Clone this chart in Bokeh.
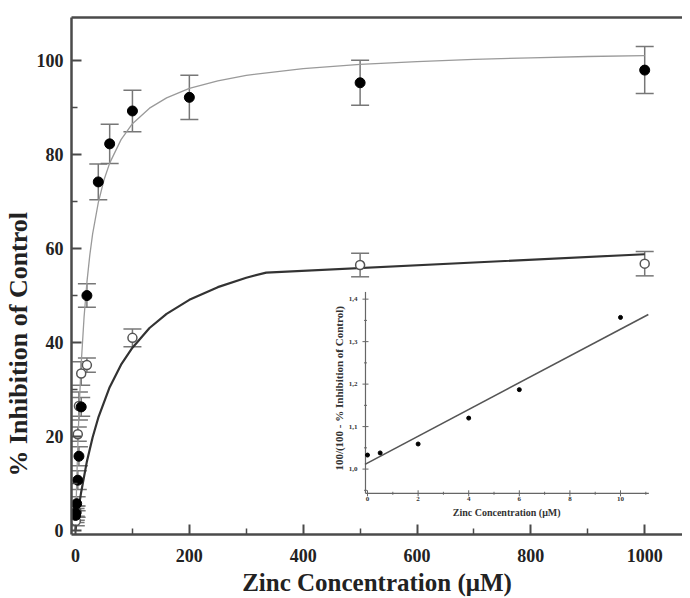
from bokeh.plotting import figure
from bokeh.models import (Range1d, LinearAxis, FixedTicker, Whisker, TeeHead,
                          ColumnDataSource)
from bokeh.embed import file_html
from bokeh.resources import INLINE
from bokeh.core.properties import value

# ---------------- main data ----------------
filled_x = [0.1, 0.5, 2, 4, 6, 10, 20, 40, 60, 100, 200, 500, 1000]
filled_y = [3.2, 3.7, 5.7, 10.7, 15.8, 26.3, 50.0, 74.2, 82.3, 89.3, 92.2, 95.3, 98.0]
filled_err = [1.5, 1.5, 1.5, 2.0, 2.0, 2.0, 2.5, 3.8, 4.2, 4.4, 4.7, 4.8, 5.0]

open_x = [0.5, 2, 4, 6, 10, 20, 100, 500, 1000]
open_y = [2.0, 4.0, 20.5, 26.5, 33.4, 35.2, 41.0, 56.5, 56.8]
open_err = [1.0, 1.2, 1.5, 3.0, 2.5, 1.5, 1.9, 2.5, 2.6]

fit_filled_x = [0, 1, 2, 3, 5, 7, 10, 15, 20, 25, 30, 40, 50, 60, 80, 100, 130,
                160, 200, 250, 300, 400, 500, 600, 700, 800, 900, 1000]
fit_filled_y = [0, 5.2, 9.8, 14.1, 21.5, 27.7, 35.5, 45.4, 52.8, 58.5, 63.1, 69.8,
                74.6, 78.2, 83.2, 86.6, 89.9, 92.1, 94.1, 95.7, 96.9, 98.3, 99.2,
                99.8, 100.3, 100.6, 100.9, 101.1]

fit_open_x = [0, 5, 10, 20, 30, 40, 60, 80, 100, 130, 160, 200, 250, 300, 335, 1000]
fit_open_y = [0, 4.4, 8.2, 14.7, 19.8, 24.0, 30.5, 35.3, 38.9, 43.1, 46.1, 49.1,
              51.8, 53.8, 54.9, 58.8]

x_major = [0, 200, 400, 600, 800, 1000]
x_minor = [100, 300, 500, 700, 900]
y_major = [0, 20, 40, 60, 80, 100]
y_minor = [10, 30, 50, 70, 90]

# ---------------- inset data ----------------
inset_x = [0, 0.5, 2, 4, 6, 10]
inset_y = [1.033, 1.038, 1.059, 1.120, 1.187, 1.357]
inset_fit_x = [-0.1, 11.1]
inset_fit_y = [1.011, 1.364]
inset_xticks = [0, 2, 4, 6, 8, 10]
inset_xminor = [1, 3, 5, 7, 9, 11]
inset_xlabels = ["0", "2", "4", "6", "8", "10"]
inset_yticks = [1.0, 1.1, 1.2, 1.3, 1.4]
inset_yminor = [0.95, 1.05, 1.15, 1.25, 1.35]
inset_ylabels = ["1,0", "1,1", "1,2", "1,3", "1,4"]
inset_x_lim = [-0.08, 11.12]
inset_y_lim = [0.943, 1.417]

SERIF = "Liberation Serif"
AX = "#4a4a4a"
NB = "\u00a0"

p = figure(width=682, height=598, output_backend="svg", toolbar_location=None,
           x_range=Range1d(-7.06, 1066.4), y_range=Range1d(-0.86, 109.2),
           min_border_left=71, min_border_right=0, min_border_top=17,
           min_border_bottom=20)
p.background_fill_color = "white"
p.border_fill_color = "white"
p.outline_line_color = None
p.grid.visible = False

for ax in (p.xaxis[0], p.yaxis[0]):
    ax.axis_line_width = 2.5
    ax.axis_line_color = AX
    ax.major_tick_line_color = AX
    ax.minor_tick_line_color = AX
    ax.major_tick_line_width = 2
    ax.minor_tick_line_width = 1.5
    ax.major_tick_in = 10
    ax.major_tick_out = 0
    ax.minor_tick_in = 6
    ax.minor_tick_out = 0
    ax.major_label_text_font = SERIF
    ax.major_label_text_font_style = "bold"
    ax.major_label_text_font_size = "18px"
    ax.major_label_text_color = "#222"
    ax.axis_label_text_font = SERIF
    ax.axis_label_text_font_style = "bold"
    ax.axis_label_text_color = "#222"

p.xaxis[0].axis_label_text_font_size = "25px"
p.yaxis[0].axis_label_text_font_size = "26px"
p.xaxis[0].ticker = FixedTicker(ticks=x_major, minor_ticks=x_minor)
p.yaxis[0].ticker = FixedTicker(ticks=y_major, minor_ticks=y_minor)
p.xaxis[0].axis_label = "Zinc Concentration (\u03bcM)"
p.yaxis[0].axis_label = "% Inhibition of Control" + NB * 21
p.xaxis[0].major_label_standoff = 14
p.xaxis[0].axis_label_standoff = 4
p.yaxis[0].major_label_standoff = 8
p.yaxis[0].axis_label_standoff = 1

top = LinearAxis(axis_line_width=2.5, axis_line_color=AX, major_tick_line_color=None,
                 minor_tick_line_color=None, major_label_text_font_size="0px",
                 ticker=FixedTicker(ticks=[]))
p.add_layout(top, "above")

# ---------------- curves ----------------
p.line(fit_filled_x, fit_filled_y, line_color="#9a9a9a", line_width=1.3)
p.line(fit_open_x, fit_open_y, line_color="#333333", line_width=2.2)

# ---------------- error bars ----------------
fs = ColumnDataSource(dict(x=filled_x, y=filled_y,
                           up=[a + b for a, b in zip(filled_y, filled_err)],
                           lo=[a - b for a, b in zip(filled_y, filled_err)]))
os_ = ColumnDataSource(dict(x=open_x, y=open_y,
                            up=[a + b for a, b in zip(open_y, open_err)],
                            lo=[a - b for a, b in zip(open_y, open_err)]))
for src in (fs, os_):
    w = Whisker(source=src, base="x", upper="up", lower="lo", dimension="height",
                line_color="#777777", line_width=1.5,
                upper_head=TeeHead(size=18, line_color="#777777", line_width=1.5),
                lower_head=TeeHead(size=18, line_color="#777777", line_width=1.5))
    p.add_layout(w)

p.scatter("x", "y", source=os_, marker="circle", size=9, fill_color="white",
          line_color="#555555", line_width=1.5)
p.scatter("x", "y", source=fs, marker="circle", size=10, fill_color="black",
          line_color="black")

# ---------------- inset (own scales) ----------------
p.extra_x_ranges = {"ix": Range1d(-11.7, 12.45)}
p.extra_y_ranges = {"iy": Range1d(0.846, 2.063)}
IK = dict(x_range_name="ix", y_range_name="iy")
IAX = "#666666"

p.segment(x0=[inset_x_lim[0]], y0=[inset_y_lim[0]], x1=[inset_x_lim[1]],
          y1=[inset_y_lim[0]], line_color=IAX, line_width=1.2, **IK)
p.segment(x0=[inset_x_lim[0]], y0=[inset_y_lim[0]], x1=[inset_x_lim[0]],
          y1=[inset_y_lim[1]], line_color=IAX, line_width=1.2, **IK)
p.scatter(inset_xticks, [inset_y_lim[0]] * len(inset_xticks), marker="dash",
          angle=1.5708, size=6, line_color=IAX, line_width=1, **IK)
p.scatter(inset_xminor, [inset_y_lim[0]] * len(inset_xminor), marker="dash",
          angle=1.5708, size=3, line_color=IAX, line_width=1, **IK)
p.scatter([inset_x_lim[0]] * len(inset_yticks), inset_yticks, marker="dash",
          size=6, line_color=IAX, line_width=1, **IK)
p.scatter([inset_x_lim[0]] * len(inset_yminor), inset_yminor, marker="dash",
          size=3, line_color=IAX, line_width=1, **IK)
p.text(inset_xticks, [inset_y_lim[0]] * len(inset_xticks), text=inset_xlabels,
       text_font=value(SERIF), text_font_size="7px", text_font_style="bold",
       text_align="center", text_baseline="top", y_offset=4, text_color="#333", **IK)
p.text([inset_x_lim[0]] * len(inset_yticks), inset_yticks, text=inset_ylabels,
       text_font=value(SERIF), text_font_size="7px", text_font_style="bold",
       text_align="right", text_baseline="middle", x_offset=-8, text_color="#333", **IK)
p.text([5.5], [inset_y_lim[0]], text=["Zinc Concentration (\u03bcM)"],
       text_font=value(SERIF), text_font_size="10px", text_font_style="bold",
       text_align="center", text_baseline="top", y_offset=14, text_color="#333", **IK)
p.text([inset_x_lim[0]], [1.19], text=["100/(100 - % Inhibition of Control)"],
       text_font=value(SERIF), text_font_size="11px", text_font_style="bold",
       text_align="center", text_baseline="bottom", angle=1.5708, x_offset=-20,
       text_color="#333", **IK)

p.line(inset_fit_x, inset_fit_y, line_color="#555555", line_width=1.6, **IK)
p.scatter(inset_x, inset_y, marker="circle", size=4, fill_color="black",
          line_color="black", **IK)

open("out.html", "w").write(file_html(p, INLINE))
